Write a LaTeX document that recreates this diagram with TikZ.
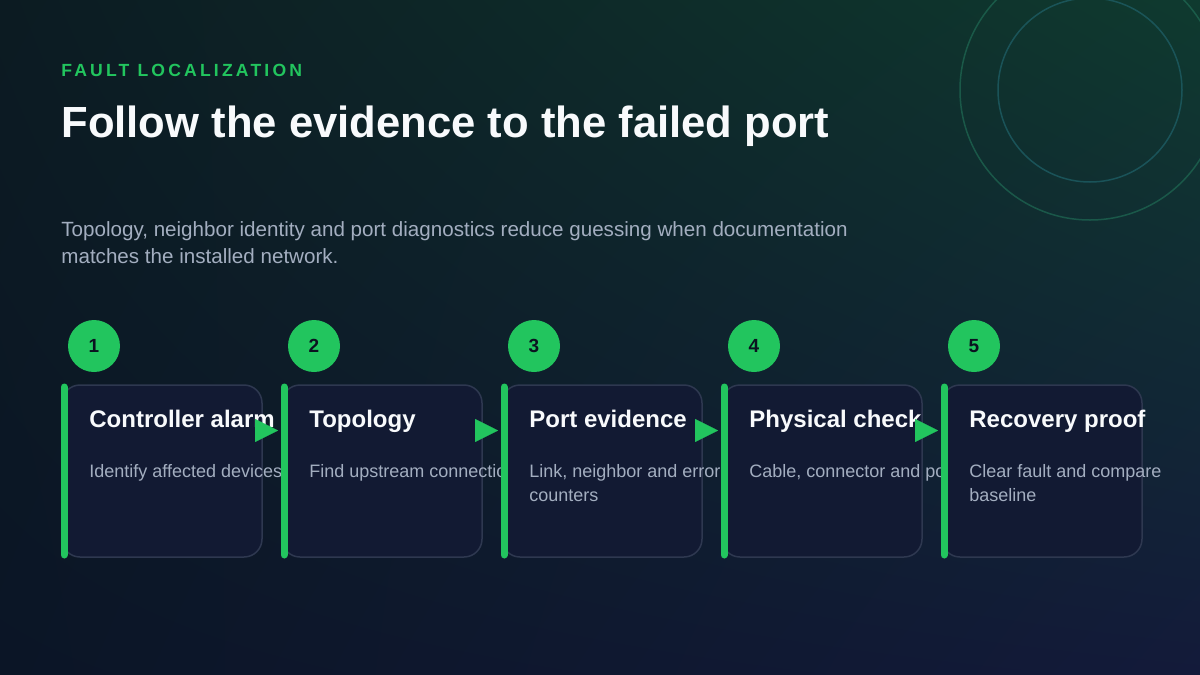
\documentclass[tikz,border=0pt]{standalone}
\usepackage{fontspec}
\setmainfont{Liberation Sans}
\usetikzlibrary{positioning,calc,arrows.meta,shadings}

\definecolor{bgtl}{HTML}{0C1B22}
\definecolor{bgtr}{HTML}{0F3A2F}
\definecolor{bgbl}{HTML}{0B1526}
\definecolor{bgbr}{HTML}{131A3A}
\definecolor{accent}{HTML}{22C55E}
\definecolor{cardfill}{HTML}{121A33}
\definecolor{cardline}{HTML}{2E3850}
\definecolor{headtext}{HTML}{F8FAFC}
\definecolor{softtext}{HTML}{A3AEC0}
\definecolor{numtext}{HTML}{0B1220}
\definecolor{ringa}{HTML}{1F6A54}
\definecolor{ringb}{HTML}{1D5C63}

\begin{document}
\begin{tikzpicture}[x=0.5pt,y=-0.5pt,
  card/.style={draw=cardline,fill=cardfill,line width=0.75pt,rounded corners=9pt,
    minimum width=100pt,minimum height=86pt,outer sep=0pt,inner sep=0pt},
  bar/.style={accent,line width=3.5pt,line cap=round},
  step num/.style={circle,fill=accent,minimum size=26pt,inner sep=0pt,
    text=numtext,font=\fontsize{9.5}{9.5}\selectfont\bfseries},
  card title/.style={anchor=base west,inner sep=0pt,text=headtext,
    font=\fontsize{12}{14}\selectfont\bfseries},
  card text/.style={anchor=base west,inner sep=0pt,text=softtext,align=left,
    font=\fontsize{9}{12}\selectfont},
  flow/.style={accent,line width=0.1pt,-{Triangle[length=11.5pt,width=11.5pt]}}]

  % background
  \useasboundingbox (0,0) rectangle (1200,675);
  \shade[upper left=bgtl,upper right=bgtr,lower left=bgbl,lower right=bgbr]
    (0,0) rectangle (1200,675);
  \draw[ringa,line width=0.75pt,opacity=0.7] (1090,90) circle[radius=65pt];
  \draw[ringb,line width=0.75pt,opacity=0.8] (1090,90) circle[radius=46pt];

  % heading
  \node[anchor=base west,inner sep=0pt,text=accent,
    font=\fontsize{8.8}{10}\selectfont\bfseries\addfontfeatures{LetterSpace=18}]
    (eyebrow) at (61,76) {FAULT LOCALIZATION};
  \node[anchor=base west,inner sep=0pt,text=headtext,
    font=\fontsize{21.8}{24}\selectfont\bfseries]
    (headline) at (61,137) {Follow the evidence to the failed port};
  % two lines: base anchor sits on the last line
  \node[anchor=base west,inner sep=0pt,text=softtext,align=left,
    font=\fontsize{10.3}{13.5}\selectfont]
    (lede) at (61,263) {Topology, neighbor identity and port diagnostics reduce guessing when documentation\\matches the installed network.};

  % step 1
  \node[card] (card1) at (162,471) {};
  \draw[bar] ($(card1.north west)+(2,2)$) -- ($(card1.south west)+(2,-2)$);
  \node[step num] (num1) at ($(card1.north west)+(32,-39)$) {1};
  \node[card title] (title1) at ($(card1.north west)+(27,42)$) {Controller alarm};
  \node[card text] (text1) at ($(card1.north west)+(27,92)$) {Identify affected devices};
  \draw[flow] ($(card1.east)+(-7,-40.5)$) -- ($(card1.east)+(16,-40.5)$);

  % step 2
  \node[card] (card2) [right=10pt of card1] {};
  \draw[bar] ($(card2.north west)+(2,2)$) -- ($(card2.south west)+(2,-2)$);
  \node[step num] (num2) at ($(card2.north west)+(32,-39)$) {2};
  \node[card title] (title2) at ($(card2.north west)+(27,42)$) {Topology};
  \node[card text] (text2) at ($(card2.north west)+(27,92)$) {Find upstream connection};
  \draw[flow] ($(card2.east)+(-7,-40.5)$) -- ($(card2.east)+(16,-40.5)$);

  % step 3
  \node[card] (card3) [right=10pt of card2] {};
  \draw[bar] ($(card3.north west)+(2,2)$) -- ($(card3.south west)+(2,-2)$);
  \node[step num] (num3) at ($(card3.north west)+(32,-39)$) {3};
  \node[card title] (title3) at ($(card3.north west)+(27,42)$) {Port evidence};
  \node[card text] (text3) at ($(card3.north west)+(27,116)$) {Link, neighbor and error\\counters};
  \draw[flow] ($(card3.east)+(-7,-40.5)$) -- ($(card3.east)+(16,-40.5)$);

  % step 4
  \node[card] (card4) [right=10pt of card3] {};
  \draw[bar] ($(card4.north west)+(2,2)$) -- ($(card4.south west)+(2,-2)$);
  \node[step num] (num4) at ($(card4.north west)+(32,-39)$) {4};
  \node[card title] (title4) at ($(card4.north west)+(27,42)$) {Physical check};
  \node[card text] (text4) at ($(card4.north west)+(27,92)$) {Cable, connector and port};
  \draw[flow] ($(card4.east)+(-7,-40.5)$) -- ($(card4.east)+(16,-40.5)$);

  % step 5
  \node[card] (card5) [right=10pt of card4] {};
  \draw[bar] ($(card5.north west)+(2,2)$) -- ($(card5.south west)+(2,-2)$);
  \node[step num] (num5) at ($(card5.north west)+(32,-39)$) {5};
  \node[card title] (title5) at ($(card5.north west)+(27,42)$) {Recovery proof};
  \node[card text] (text5) at ($(card5.north west)+(27,116)$) {Clear fault and compare\\baseline};
\end{tikzpicture}
\end{document}
